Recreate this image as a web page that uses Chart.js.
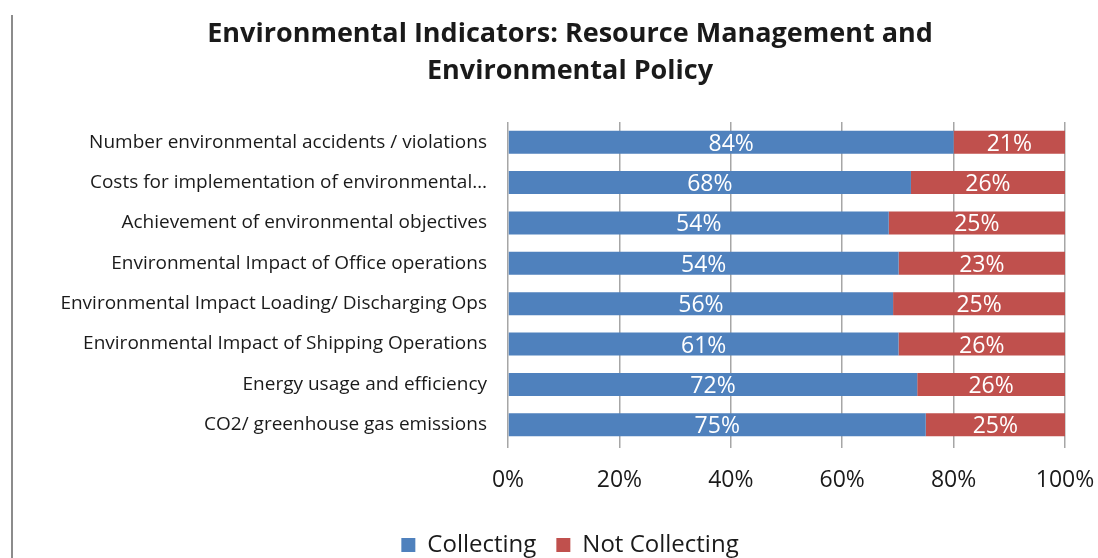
<!DOCTYPE html>
<html>
<head>
<meta charset="utf-8">
<script src="https://cdn.jsdelivr.net/npm/chart.js@4.4.1/dist/chart.umd.min.js"></script>
<style>
  html, body { margin: 0; padding: 0; background: #ffffff; overflow: hidden; width: 1098px; height: 558px; }
  #wrap { position: relative; width: 1098px; height: 573px; }
  #edge { position: absolute; left: 11px; top: 15px; width: 2px; height: 560px; background: #8c8c8c; }
  canvas { position: absolute; left: 0; top: 0; }
</style>
</head>
<body>
<div id="wrap">
  <canvas id="c" width="1098" height="573"></canvas>
  <div id="edge"></div>
</div>
<script>
const categories = [
  "Number environmental accidents / violations",
  "Costs for implementation of environmental\u2026",
  "Achievement of environmental objectives",
  "Environmental Impact of Office operations",
  "Environmental Impact Loading/ Discharging Ops",
  "Environmental Impact of Shipping Operations",
  "Energy usage and efficiency",
  "CO2/ greenhouse gas emissions"
];
const collecting = [84, 68, 54, 54, 56, 61, 72, 75];
const notCollecting = [21, 26, 25, 23, 25, 26, 26, 25];
const xTickLabels = ["0%", "20%", "40%", "60%", "80%", "100%"];
const seriesNames = ["Collecting", "Not Collecting"];
const titleLines = ["Environmental Indicators: Resource Management and", "Environmental Policy"];

const FONT = "'Open Sans', Lato, sans-serif";
const BLUE = "#4F81BD";
const RED = "#C0504D";

// 100% stacked: each bar shows its share of the row total
const totals = collecting.map((v, i) => v + notCollecting[i]);
const collectingShare = collecting.map((v, i) => v / totals[i] * 100);
const notShare = notCollecting.map((v, i) => v / totals[i] * 100);
const rawValues = [collecting, notCollecting];

const valueLabels = {
  id: 'valueLabels',
  afterDatasetsDraw(chart) {
    const ctx = chart.ctx;
    ctx.save();
    ctx.fillStyle = '#ffffff';
    ctx.font = "23px " + FONT;
    ctx.textAlign = 'center';
    ctx.textBaseline = 'middle';
    chart.data.datasets.forEach((ds, di) => {
      const meta = chart.getDatasetMeta(di);
      meta.data.forEach((bar, i) => {
        const x = (bar.x + bar.base) / 2;
        ctx.fillText(rawValues[di][i] + '%', x, bar.y + 2);
      });
    });
    ctx.restore();
  }
};

// let the long category labels extend left of the (title-centering) padding
const widenLabelArea = {
  id: 'widenLabelArea',
  afterLayout(chart) {
    chart.scales.y.left = 20;
  }
};

new Chart(document.getElementById('c'), {
  type: 'bar',
  data: {
    labels: categories,
    datasets: [
      { label: seriesNames[0], data: collectingShare, backgroundColor: BLUE, barPercentage: 0.57, categoryPercentage: 1 },
      { label: seriesNames[1], data: notShare, backgroundColor: RED, barPercentage: 0.57, categoryPercentage: 1 }
    ]
  },
  options: {
    indexAxis: 'y',
    responsive: false,
    animation: false,
    devicePixelRatio: 1,
    layout: { padding: { left: 75, right: 33, top: 0, bottom: 6 } },
    scales: {
      x: {
        stacked: true,
        min: 0, max: 100,
        ticks: {
          stepSize: 20,
          padding: 19,
          color: '#1a1a1a',
          font: { family: FONT, size: 23 },
          callback: (v, i) => xTickLabels[i]
        },
        grid: { color: '#a6a6a6', lineWidth: 1.5, drawTicks: true, tickLength: 3 },
        border: { display: false },
        afterFit(scale) { scale.height = 68; scale.paddingLeft = 0; scale.paddingRight = 0; }
      },
      y: {
        stacked: true,
        ticks: {
          padding: 21,
          color: '#1a1a1a',
          font: { family: FONT, size: 19 }
        },
        grid: { display: false, drawTicks: false },
        border: { display: false },
        afterFit(scale) { scale.width = 433; scale.paddingTop = 0; scale.paddingBottom = 0; }
      }
    },
    plugins: {
      title: {
        display: true,
        text: titleLines,
        color: '#1a1a1a',
        font: { family: FONT, size: 27, weight: 'bold', lineHeight: 37 / 27 },
        padding: { top: 16, bottom: 32 }
      },
      legend: {
        position: 'bottom',
        labels: {
          color: '#1a1a1a',
          font: { family: FONT, size: 24 },
          boxWidth: 14, boxHeight: 14,
          padding: 20
        }
      },
      tooltip: { enabled: false }
    }
  },
  plugins: [valueLabels, widenLabelArea]
});
</script>
</body>
</html>
